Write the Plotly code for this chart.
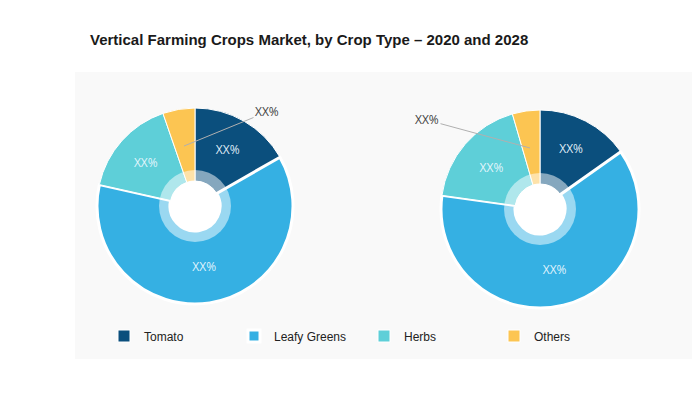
import plotly.graph_objects as go

# page has an 8px body margin; work in page pixels and convert
OFF = 8
W, H = 700 - OFF, 394 - OFF


def px(x):
    return (x - OFF) / W


def py(y):
    return 1 - (y - OFF) / H


crops = ["Tomato", "Leafy Greens", "Herbs", "Others"]
colors = ["#0b4f7d", "#35b0e3", "#5ecfd8", "#fcc552"]
share_2020 = [16.7, 61.8, 16.2, 5.3]
share_2028 = [15.2, 62.0, 18.3, 4.5]
slice_text = ["XX%", "XX%", "XX%", ""]
outside_text = "XX%"

title_text = "Vertical Farming Crops Market, by Crop Type \u2013 2020 and 2028"

# pie geometry (page pixels)
pies = [
    dict(values=share_2020, cx=195, cy=206, r=98),
    dict(values=share_2028, cx=540, cy=209, r=99),
]
HOLE_R = 25
RING_R = 36

fig = go.Figure()
shapes = [
    dict(type="rect", xref="paper", yref="paper", x0=px(75), x1=px(692),
         y0=py(359), y1=py(72), fillcolor="#f9f9f9",
         line=dict(width=0), layer="below"),
]
for i, p in enumerate(pies):
    cx, cy, r = p["cx"], p["cy"], p["r"]
    dom_x = [px(cx - r), px(cx + r)]
    dom_y = [py(cy + r), py(cy - r)]
    fig.add_trace(go.Pie(
        labels=crops, values=p["values"], sort=False, direction="clockwise",
        rotation=0, hole=HOLE_R / r,
        marker=dict(colors=colors, line=dict(color="white", width=[1, 3, 1, 1])),
        text=slice_text, textinfo="text", textposition="inside",
        insidetextorientation="horizontal",
        textfont=dict(family="Open Sans", size=12, color="rgba(235,248,255,0.95)"),
        domain=dict(x=dom_x, y=dom_y), showlegend=(i == 0),
        hoverinfo="label+percent",
    ))
    for rad, fill in ((RING_R, "rgba(255,255,255,0.5)"), (HOLE_R, "white")):
        shapes.append(dict(type="circle", xref="paper", yref="paper",
                           xsizemode="pixel", ysizemode="pixel",
                           xanchor=px(cx), yanchor=py(cy),
                           x0=-rad, x1=rad, y0=-rad, y1=rad,
                           fillcolor=fill, line=dict(width=0), layer="above"))

annotations = [
    dict(xref="paper", yref="paper", x=px(184), y=py(146),
         ax=83, ay=-34, text=outside_text, showarrow=True, arrowhead=0,
         arrowwidth=1, arrowcolor="#b0b0b0",
         font=dict(family="Open Sans", size=12, color="#444")),
    dict(xref="paper", yref="paper", x=px(530), y=py(148),
         ax=-103, ay=-28, text=outside_text, showarrow=True, arrowhead=0,
         arrowwidth=1, arrowcolor="#b0b0b0",
         font=dict(family="Open Sans", size=12, color="#444")),
]

fig.update_layout(
    width=W, height=H,
    margin=dict(l=0, r=0, t=0, b=0, autoexpand=False),
    paper_bgcolor="white",
    title=dict(text="<b>" + title_text + "</b>", x=px(90), xanchor="left",
               y=py(40), yanchor="middle", xref="paper",
               font=dict(family="Liberation Sans, Arial", size=15, color="#1a1a1a")),
    legend=dict(orientation="h", x=px(104), xanchor="left", y=py(336), yanchor="middle",
                font=dict(family="Liberation Sans, Arial", size=12, color="#222"),
                entrywidth=85, bgcolor="rgba(0,0,0,0)", traceorder="normal"),
    shapes=shapes,
    annotations=annotations,
)

fig.write_html("out.html")
